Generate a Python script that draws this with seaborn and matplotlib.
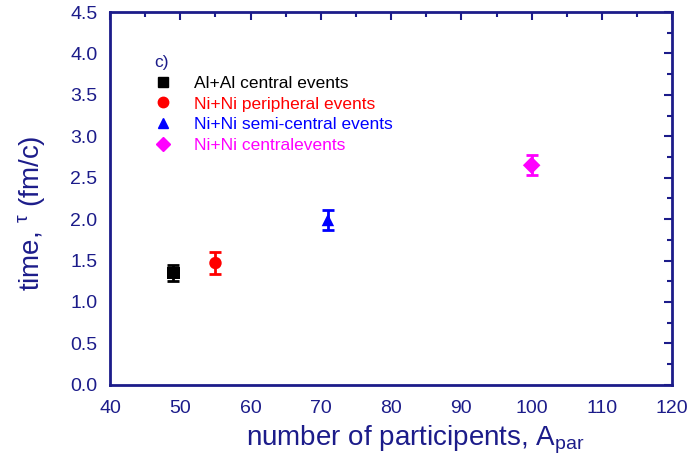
import matplotlib
matplotlib.use("Agg")
import matplotlib.pyplot as plt
import seaborn as sns
import pandas as pd
from matplotlib.ticker import MultipleLocator
from matplotlib.lines import Line2D

sns.set_style("white")
plt.rcParams['font.family'] = ['Liberation Sans', 'DejaVu Sans']
plt.rcParams['mathtext.fontset'] = 'custom'
plt.rcParams['mathtext.rm'] = 'Liberation Sans'
plt.rcParams['mathtext.it'] = 'Liberation Sans'

labels = ["Al+Al central events", "Ni+Ni peripheral events",
          "Ni+Ni semi-central events", "Ni+Ni centralevents"]
a_par = [49, 55, 71, 100]
tau = [1.35, 1.47, 1.99, 2.65]
tau_err = [0.10, 0.13, 0.12, 0.12]
colors = ["black", "red", "blue", "magenta"]
markers = ["s", "o", "^", "D"]
xticks = [40, 50, 60, 70, 80, 90, 100, 110, 120]
yticks = [0.0, 0.5, 1.0, 1.5, 2.0, 2.5, 3.0, 3.5, 4.0, 4.5]

navy = "#1c1c8a"

df = pd.DataFrame({"A": a_par, "tau": tau, "err": tau_err, "label": labels})

fig = plt.figure(figsize=(6.88, 4.62), dpi=100)
ax = fig.add_axes([0.16, 0.167, 0.817, 0.807])

for i, row in df.iterrows():
    ax.errorbar(row["A"], row["tau"], yerr=row["err"], fmt="none",
                ecolor=colors[i], elinewidth=2, capsize=4, capthick=2, zorder=2)

sns.scatterplot(data=df, x="A", y="tau", hue="label", style="label",
                palette=dict(zip(labels, colors)), markers=dict(zip(labels, markers)),
                s=80, edgecolor="none", ax=ax, legend=False, zorder=3)

ax.set_xlim(40, 120)
ax.set_ylim(0, 4.5)
ax.set_xticks(xticks)
ax.set_yticks(yticks)
ax.set_yticklabels([f"{v:.1f}" for v in yticks])
ax.xaxis.set_minor_locator(MultipleLocator(5))
ax.yaxis.set_minor_locator(MultipleLocator(0.25))

for sp in ax.spines.values():
    sp.set_color(navy)
    sp.set_linewidth(2)
ax.tick_params(which="both", direction="in", colors=navy, top=True, right=True,
               labelsize=14, width=1.5)
ax.tick_params(which="major", length=6)
ax.tick_params(which="minor", length=3.5)
ax.tick_params(axis="x", pad=11)
ax.tick_params(axis="y", pad=9)

ax.set_xlabel(r"number of participents, A$_{\mathregular{par}}$", fontsize=20, color=navy, labelpad=5)
ax.xaxis.set_label_coords(0.543, -0.105, transform=ax.transAxes)
ax.xaxis.label.set_va("top")
ax.set_ylabel(r"time, $^{\tau}$ (fm/c)", fontsize=20, color=navy, labelpad=8)
ax.yaxis.set_label_coords(-0.113, 0.46)

handles = [Line2D([], [], linestyle="none", marker=m, color=c, markersize=7.5 if m != "D" else 7)
           for m, c in zip(markers, colors)]
leg = ax.legend(handles, labels, loc="upper left", bbox_to_anchor=(0.057, 0.918),
                frameon=False, fontsize=12.5, title="c)", title_fontsize=12.5,
                labelcolor=colors, alignment="left", handlelength=1.0,
                handletextpad=1.3, labelspacing=0.33, borderpad=0.2)
leg.get_title().set_color(navy)

fig.savefig("out.png", dpi=100)
